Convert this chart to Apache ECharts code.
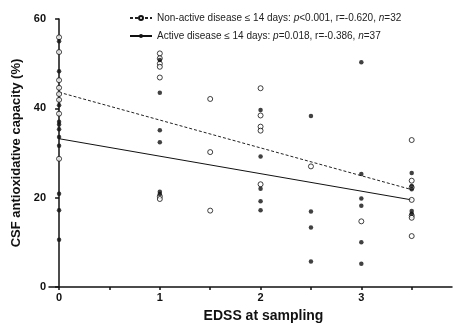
<!DOCTYPE html>
<html><head><meta charset="utf-8">
<script src="https://cdn.jsdelivr.net/npm/echarts@6/dist/echarts.min.js"></script>
<style>html,body{margin:0;padding:0;background:#fff}#c{width:457px;height:328px}</style>
</head><body><div id="c"></div>
<script>
// Non-active disease (open circles): [EDSS, value]
var nonActive = [
  [0,55.9],[0,52.6],[0,46.3],[0,44.6],[0,43.2],[0,41.9],[0,38.8],[0,28.7],
  [1,52.3],[1,51.2],[1,50.0],[1,49.3],[1,46.9],[1,20.3],[1,19.7],
  [1.5,42.1],[1.5,30.2],[1.5,17.1],
  [2,44.5],[2,38.4],[2,35.9],[2,35.0],[2,23.0],
  [2.5,27.0],
  [3,14.7],
  [3.5,32.9],[3.5,23.8],[3.5,19.5],[3.5,16.0],[3.5,15.5],[3.5,11.4],[3.5,22.3]
];
// Active disease (filled circles)
var active = [
  [0,55.0],[0,48.3],[0,40.7],[0,37.0],[0,36.4],[0,35.3],[0,33.6],[0,31.6],[0,20.9],[0,17.2],[0,10.6],
  [1,50.8],[1,43.5],[1,35.1],[1,32.4],[1,21.3],[1,20.8],
  [2,39.6],[2,29.2],[2,22.0],[2,19.2],[2,17.2],
  [2.5,38.3],[2.5,16.9],[2.5,13.3],[2.5,5.7],
  [3,50.3],[3,25.3],[3,19.8],[3,18.2],[3,10.0],[3,5.2],
  [3.5,25.5],[3.5,22.6],[3.5,21.9],[3.5,17.0],[3.5,16.4]
];
// Regression line endpoints
var nonActiveFit = [[0,43.6],[3.5,21.8]];
var activeFit = [[0,33.2],[3.5,19.5]];
var xTicks = [0,0.5,1,1.5,2,2.5,3,3.5];
var xLabels = [0,1,2,3];
var yTicks = [0,20,40,60];

var FONT = 'Liberation Sans, Arial, sans-serif';
var chart = echarts.init(document.getElementById('c'));
chart.setOption({
  animation:false,
  backgroundColor:'#fff',
  grid:{left:49,top:19,right:5,bottom:34.7,containLabel:false},
  legend:{
    orient:'vertical', left:124, top:8, itemWidth:22, itemHeight:5, itemGap:8,
    data:['nonfit','actfit'],
    textStyle:{fontFamily:FONT,fontSize:10,color:'#222',
      rich:{i:{fontStyle:'italic',fontFamily:FONT,fontSize:10,color:'#222'}}},
    formatter:function(n){
      if(n==='nonfit') return 'Non-active disease \u2264 14 days: {i|p}<0.001, r=-0.620, {i|n}=32';
      return 'Active disease \u2264 14 days: {i|p}=0.018, r=-0.386, {i|n}=37';
    }
  },
  xAxis:{type:'value',min:-0.1,max:3.9,
    name:'EDSS at sampling',nameLocation:'middle',nameGap:22,
    nameTextStyle:{fontFamily:FONT,fontSize:14,fontWeight:'bold',color:'#111',padding:[0,0,0,26]},
    axisLine:{show:true,lineStyle:{color:'#111',width:1.5}},
    axisTick:{show:true,length:3,customValues:xTicks,lineStyle:{color:'#111',width:1.5}},
    axisLabel:{customValues:xLabels,fontFamily:FONT,fontSize:11,fontWeight:'bold',color:'#111',margin:5},
    splitLine:{show:false}},
  yAxis:{type:'value',min:0,max:60,interval:20,
    name:'CSF antioxidative capacity (%)',nameLocation:'middle',nameGap:23,nameRotate:90,
    nameTextStyle:{fontFamily:FONT,fontSize:13,fontWeight:'bold',color:'#111'},
    axisLine:{show:true,lineStyle:{color:'#111',width:1.5}},
    axisTick:{show:true,length:4,lineStyle:{color:'#111',width:1.5}},
    axisLabel:{fontFamily:FONT,fontSize:11,fontWeight:'bold',color:'#111',margin:3},
    splitLine:{show:false}},
  series:[
    {name:'nonfit',type:'line',data:nonActiveFit,showSymbol:false,symbol:'circle',symbolSize:5,
      lineStyle:{color:'#222',width:1,type:[3,2]},
      itemStyle:{color:'#fff',borderColor:'#111',borderWidth:1},z:2},
    {name:'actfit',type:'line',data:activeFit,showSymbol:false,symbol:'circle',symbolSize:5,
      lineStyle:{color:'#111',width:1},
      itemStyle:{color:'#111'},z:2},
    {name:'nonactive',type:'scatter',data:nonActive,symbol:'circle',symbolSize:5,
      itemStyle:{color:'#fff',borderColor:'#111',borderWidth:1},z:3},
    {name:'active',type:'scatter',data:active,symbol:'circle',symbolSize:4.5,
      itemStyle:{color:'#111'},z:4}
  ]
});
</script></body></html>
